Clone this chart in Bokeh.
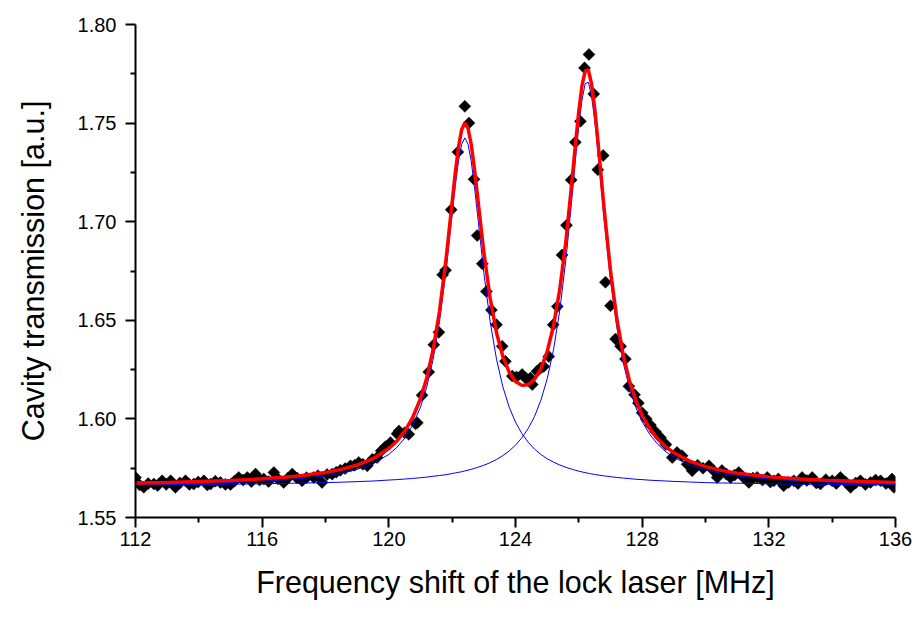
import numpy as np
from bokeh.plotting import figure
from bokeh.models import FixedTicker, PrintfTickFormatter, Range1d
from bokeh.embed import file_html
from bokeh.resources import INLINE

# ---- measured data points (diamonds) ----
data_x = [112.00, 112.13, 112.26, 112.40, 112.58, 112.70, 112.84, 112.97, 113.11, 113.26,
          113.40, 113.58, 113.70, 113.84, 113.98, 114.16, 114.27, 114.37, 114.52, 114.68,
          114.84, 115.00, 115.13, 115.26, 115.40, 115.53, 115.66, 115.79, 115.92, 116.05,
          116.20, 116.37, 116.50, 116.68, 116.80, 116.95, 117.10, 117.26, 117.40, 117.63,
          117.76, 117.89, 118.05, 118.21, 118.34, 118.47, 118.62, 118.79, 118.92, 119.05,
          119.18, 119.32, 119.48, 119.63, 119.76, 119.89, 120.05, 120.26, 120.32, 120.50,
          120.63, 120.84, 120.90, 121.05, 121.26, 121.42, 121.58, 121.70, 121.79, 121.97,
          122.18, 122.40, 122.53, 122.69, 122.79, 122.95, 123.08, 123.24, 123.40, 123.58,
          123.68, 123.90, 124.03, 124.21, 124.33, 124.47, 124.53, 124.68, 124.79, 124.89,
          125.05, 125.19, 125.32, 125.47, 125.61, 125.76, 125.89, 126.05, 126.18, 126.32,
          126.47, 126.60, 126.77, 126.84, 127.00, 127.16, 127.32, 127.47, 127.58, 127.76,
          127.88, 128.00, 128.13, 128.26, 128.42, 128.58, 128.75, 128.95, 129.10, 129.26,
          129.42, 129.58, 129.75, 129.92, 130.11, 130.24, 130.37, 130.52, 130.66, 130.79,
          130.92, 131.05, 131.21, 131.37, 131.50, 131.63, 131.80, 131.95, 132.05, 132.16,
          132.30, 132.47, 132.62, 132.79, 132.92, 133.05, 133.20, 133.37, 133.50, 133.63,
          133.80, 134.00, 134.13, 134.26, 134.42, 134.58, 134.74, 134.89, 135.05, 135.21,
          135.37, 135.53, 135.70, 135.89, 135.95]
data_y = [1.5703, 1.5665, 1.5653, 1.5672, 1.5670, 1.5662, 1.5686, 1.5668, 1.5686, 1.5653,
          1.5675, 1.5686, 1.5668, 1.5670, 1.5680, 1.5686, 1.5665, 1.5670, 1.5684, 1.5678,
          1.5668, 1.5667, 1.5685, 1.5703, 1.5690, 1.5703, 1.5682, 1.5720, 1.5690, 1.5695,
          1.5682, 1.5728, 1.5695, 1.5678, 1.5698, 1.5720, 1.5700, 1.5686, 1.5702, 1.5703,
          1.5712, 1.5678, 1.5718, 1.5720, 1.5730, 1.5740, 1.5748, 1.5762, 1.5765, 1.5779,
          1.5770, 1.5762, 1.5795, 1.5804, 1.5838, 1.5859, 1.5880, 1.5925, 1.5939, 1.5930,
          1.5922, 1.5975, 1.5980, 1.6120, 1.6238, 1.6376, 1.6439, 1.6731, 1.6754, 1.7061,
          1.7353, 1.7585, 1.7500, 1.7215, 1.6930, 1.6787, 1.6646, 1.6552, 1.6478, 1.6368,
          1.6292, 1.6217, 1.6212, 1.6225, 1.6205, 1.6207, 1.6174, 1.6241, 1.6258, 1.6266,
          1.6317, 1.6477, 1.6570, 1.6831, 1.6982, 1.7212, 1.7403, 1.7509, 1.7780, 1.7848,
          1.7648, 1.7264, 1.7336, 1.6693, 1.6574, 1.6405, 1.6368, 1.6304, 1.6165, 1.6123,
          1.6080, 1.6031, 1.6000, 1.5969, 1.5935, 1.5905, 1.5870, 1.5804, 1.5830, 1.5813,
          1.5770, 1.5737, 1.5765, 1.5750, 1.5762, 1.5740, 1.5703, 1.5738, 1.5720, 1.5703,
          1.5715, 1.5728, 1.5702, 1.5678, 1.5700, 1.5703, 1.5690, 1.5703, 1.5680, 1.5686,
          1.5695, 1.5661, 1.5678, 1.5686, 1.5672, 1.5703, 1.5688, 1.5703, 1.5675, 1.5670,
          1.5692, 1.5686, 1.5672, 1.5703, 1.5680, 1.5653, 1.5675, 1.5686, 1.5668, 1.5678,
          1.5690, 1.5686, 1.5672, 1.5695, 1.5653]

# ---- fitted curves ----
fit_x = [112, 113, 114, 115, 116, 117, 118, 118.5, 119, 119.5,
         120, 120.25, 120.5, 120.75, 121, 121.2, 121.4, 121.6, 121.8, 122.0,
         122.1, 122.2, 122.3, 122.4, 122.5, 122.6, 122.7, 122.8, 123.0, 123.2,
         123.4, 123.6, 123.8, 124.0, 124.2, 124.4, 124.6, 124.8, 125.0, 125.2,
         125.4, 125.6, 125.8, 125.9, 126.0, 126.1, 126.2, 126.3, 126.4, 126.5,
         126.6, 126.7, 126.8, 127.0, 127.2, 127.4, 127.6, 127.8, 128.0, 128.25,
         128.5, 128.75, 129, 129.5, 130, 130.5, 131, 132, 133, 134,
         135, 136]
fit_total = [1.5675, 1.5678, 1.5682, 1.5688, 1.5696, 1.5708, 1.5728, 1.5744, 1.5766, 1.5798,
             1.5850, 1.5887, 1.5937, 1.6006, 1.6102, 1.6208, 1.6352, 1.6546, 1.6799, 1.7100,
             1.7250, 1.7378, 1.7467, 1.7501, 1.7474, 1.7394, 1.7272, 1.7131, 1.6847, 1.6612,
             1.6437, 1.6317, 1.6237, 1.6190, 1.6170, 1.6173, 1.6200, 1.6254, 1.6341, 1.6471,
             1.6658, 1.6913, 1.7235, 1.7405, 1.7562, 1.7690, 1.7765, 1.7770, 1.7700, 1.7577,
             1.7415, 1.7238, 1.7062, 1.6751, 1.6507, 1.6326, 1.6192, 1.6093, 1.6018, 1.5948,
             1.5897, 1.5858, 1.5828, 1.5786, 1.5758, 1.5739, 1.5725, 1.5706, 1.5695, 1.5687,
             1.5682, 1.5678]
fit_peak1 = [1.5669, 1.5671, 1.5674, 1.5678, 1.5684, 1.5694, 1.5711, 1.5724, 1.5744, 1.5773,
             1.5820, 1.5855, 1.5902, 1.5968, 1.6060, 1.6163, 1.6303, 1.6493, 1.6742, 1.7037,
             1.7184, 1.7308, 1.7393, 1.7425, 1.7393, 1.7308, 1.7184, 1.7037, 1.6742, 1.6493,
             1.6303, 1.6163, 1.6060, 1.5984, 1.5926, 1.5882, 1.5847, 1.5820, 1.5798, 1.5781,
             1.5766, 1.5754, 1.5744, 1.5739, 1.5735, 1.5731, 1.5728, 1.5724, 1.5721, 1.5718,
             1.5716, 1.5713, 1.5711, 1.5707, 1.5703, 1.5700, 1.5697, 1.5694, 1.5692, 1.5689,
             1.5687, 1.5685, 1.5683, 1.5680, 1.5677, 1.5675, 1.5674, 1.5671, 1.5669, 1.5668,
             1.5666, 1.5666]
fit_peak2 = [1.5666, 1.5667, 1.5668, 1.5669, 1.5671, 1.5674, 1.5677, 1.5679, 1.5682, 1.5685,
             1.5690, 1.5692, 1.5695, 1.5698, 1.5702, 1.5705, 1.5709, 1.5713, 1.5717, 1.5723,
             1.5726, 1.5729, 1.5732, 1.5736, 1.5740, 1.5744, 1.5749, 1.5754, 1.5765, 1.5778,
             1.5794, 1.5814, 1.5837, 1.5867, 1.5904, 1.5951, 1.6012, 1.6094, 1.6203, 1.6350,
             1.6552, 1.6819, 1.7150, 1.7325, 1.7487, 1.7617, 1.7700, 1.7707, 1.7638, 1.7515,
             1.7357, 1.7185, 1.7011, 1.6704, 1.6464, 1.6286, 1.6155, 1.6058, 1.5986, 1.5919,
             1.5870, 1.5833, 1.5805, 1.5766, 1.5741, 1.5723, 1.5711, 1.5695, 1.5686, 1.5679,
             1.5675, 1.5672]

x_major = [112, 116, 120, 124, 128, 132, 136]
x_minor = [114, 118, 122, 126, 130, 134]
y_major = [1.55, 1.60, 1.65, 1.70, 1.75, 1.80]
y_minor = [1.575, 1.625, 1.675, 1.725, 1.775]

x_title = "Frequency shift of the lock laser [MHz]"
y_title = "Cavity transmission [a.u.]"

FONT = "Liberation Sans"

p = figure(width=915, height=617, output_backend="svg", toolbar_location=None,
           x_range=Range1d(112, 136), y_range=Range1d(1.55, 1.80),
           min_border_left=135, min_border_right=20, min_border_top=24, min_border_bottom=100)
p.outline_line_color = None
p.xgrid.visible = False
p.ygrid.visible = False
p.background_fill_color = "white"
p.border_fill_color = "white"

p.scatter(data_x, data_y, marker="square", angle=np.pi / 4, size=8.5,
          fill_color="black", line_color="black", line_width=0.5)
p.line(fit_x, fit_peak1, line_color="#0000ff", line_width=1)
p.line(fit_x, fit_peak2, line_color="#0000ff", line_width=1)
p.line(fit_x, fit_total, line_color="#ff0000", line_width=3.5)

for ax in (p.xaxis[0], p.yaxis[0]):
    ax.axis_line_width = 2
    ax.axis_line_color = "black"
    ax.major_tick_line_width = 2
    ax.minor_tick_line_width = 2
    ax.major_tick_line_color = "black"
    ax.minor_tick_line_color = "black"
    ax.major_tick_out = 10
    ax.major_tick_in = 0
    ax.minor_tick_out = 5
    ax.minor_tick_in = 0
    ax.major_label_text_font = FONT
    ax.major_label_text_font_size = "20px"
    ax.major_label_text_color = "black"
    ax.axis_label_text_font = FONT
    ax.axis_label_text_font_size = "30.5px"
    ax.axis_label_text_font_style = "normal"
    ax.axis_label_text_color = "black"

p.xaxis[0].ticker = FixedTicker(ticks=x_major, minor_ticks=x_minor)
p.yaxis[0].ticker = FixedTicker(ticks=y_major, minor_ticks=y_minor)
p.xaxis[0].formatter = PrintfTickFormatter(format="%d")
p.yaxis[0].formatter = PrintfTickFormatter(format="%.2f")
p.xaxis[0].major_label_standoff = 4
p.yaxis[0].major_label_standoff = 9
p.xaxis[0].axis_label = x_title
p.yaxis[0].axis_label = y_title
p.xaxis[0].axis_label_standoff = 16
p.yaxis[0].axis_label_standoff = 25

open("out.html", "w").write(file_html(p, INLINE))
